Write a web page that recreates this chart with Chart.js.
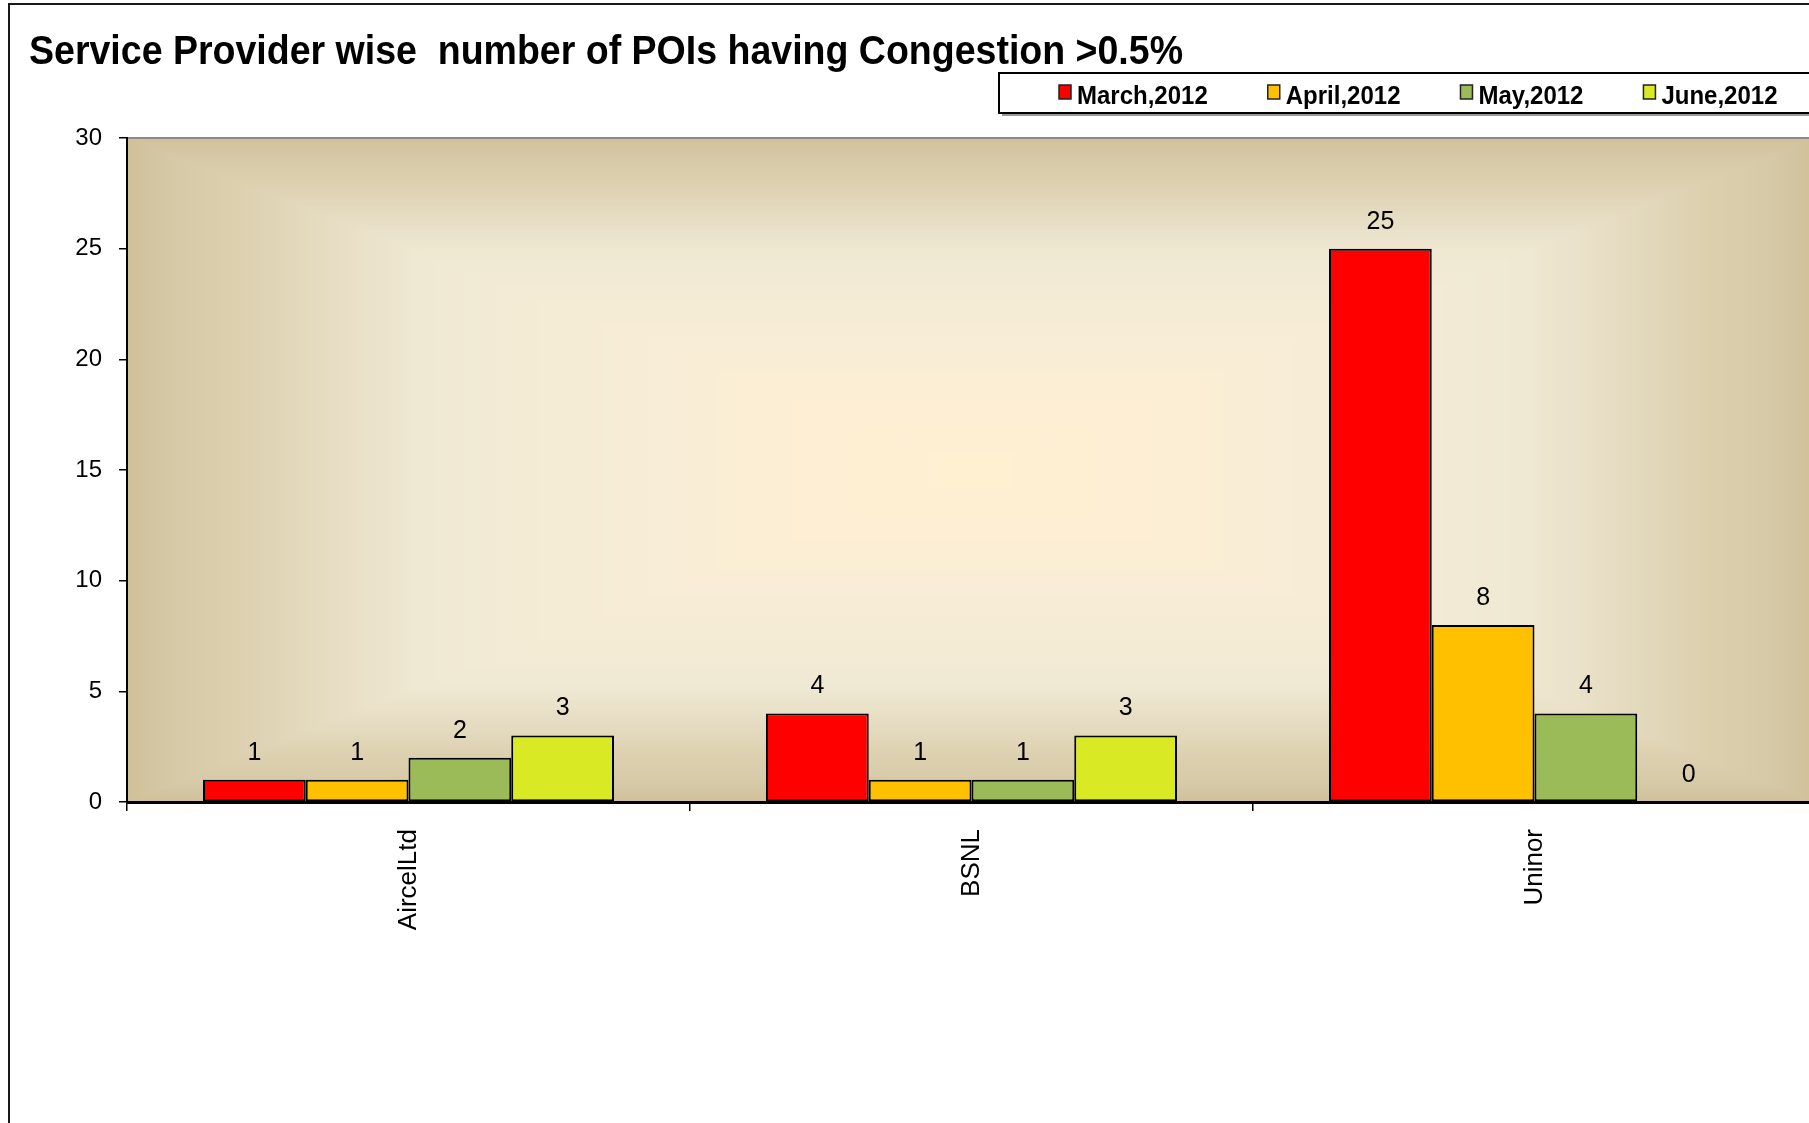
<!DOCTYPE html>
<html>
<head>
<meta charset="utf-8">
<title>Service Provider wise number of POIs having Congestion &gt;0.5%</title>
<script src="https://cdn.jsdelivr.net/npm/chart.js@4.4.0/dist/chart.umd.min.js"></script>
<style>
  html, body { margin: 0; padding: 0; background: #fff; overflow: hidden; }
  #chartBox { width: 1809px; height: 1123px; overflow: hidden; position: relative; }
  canvas { display: block; }
</style>
</head>
<body>
<div id="chartBox"><canvas id="myChart" width="1830" height="1123"></canvas></div>
<script>
// chart data
const providers = ['AircelLtd', 'BSNL', 'Uninor']
const monthLabels = ['March,2012', 'April,2012', 'May,2012', 'June,2012']
const march = [1, 4, 25]
const april = [1, 1, 8]
const may = [2, 1, 4]
const june = [3, 3, 0]
const yTicks = [0, 5, 10, 15, 20, 25, 30]

const titleText = 'Service Provider wise  number of POIs having Congestion >0.5%'
const barColors = ['#ff0000', '#ffc000', '#9bbb59', '#d9ea24']
const fontFamily = '"Liberation Sans", Arial, sans-serif'

Chart.defaults.font.family = fontFamily
Chart.defaults.color = '#000'

// tan -> cream rectangular gradient, like the excel "from center" fill
const gradStops = [
  [0, [255, 240, 210]],
  [0.2, [253, 238, 212]],
  [0.4, [247, 237, 214]],
  [0.55, [243, 235, 213]],
  [0.66, [239, 232, 210]],
  [0.76, [230, 221, 195]],
  [0.86, [221, 209, 177]],
  [0.95, [214, 201, 166]],
  [1, [208, 193, 155]]
]

function shade(t) {
  for (let i = 1; i < gradStops.length; i++) {
    const [t1, c1] = gradStops[i]
    const [t0, c0] = gradStops[i - 1]
    if (t <= t1) {
      const f = (t - t0) / (t1 - t0)
      const c = c0.map((v, k) => Math.round(v + (c1[k] - v) * f))
      return `rgb(${c[0]},${c[1]},${c[2]})`
    }
  }
  return 'rgb(208,193,155)'
}

const plotBackground = {
  id: 'plotBackground',
  beforeDraw(chart) {
    const { ctx, chartArea: a } = chart
    const cx = (a.left + a.right) / 2
    const cy = (a.top + a.bottom) / 2
    const hw = (a.right - a.left) / 2
    const hh = (a.bottom - a.top) / 2
    const steps = 160
    ctx.save()
    for (let i = steps; i > 0; i--) {
      const t = i / steps
      ctx.fillStyle = shade(t)
      ctx.fillRect(cx - hw * t, cy - hh * t, 2 * hw * t, 2 * hh * t)
    }
    // grey top edge of plot
    ctx.strokeStyle = '#8d8b80'
    ctx.lineWidth = 2
    ctx.beginPath()
    ctx.moveTo(a.left, a.top)
    ctx.lineTo(a.right, a.top)
    ctx.stroke()

    // outer frame (only top + left are visible)
    ctx.strokeStyle = '#1a1a1a'
    ctx.lineWidth = 2
    ctx.beginPath()
    ctx.moveTo(9, chart.height)
    ctx.lineTo(9, 4)
    ctx.lineTo(chart.width, 4)
    ctx.stroke()

    // title, squeezed a bit like the original
    ctx.font = 'bold 41px ' + fontFamily
    ctx.fillStyle = '#000'
    ctx.textBaseline = 'alphabetic'
    const w = ctx.measureText(titleText).width
    const sx = 1154 / w
    ctx.translate(29, 64)
    ctx.scale(sx, 1)
    ctx.fillText(titleText, 0, 0)
    ctx.restore()
  }
}

const valueLabels = {
  id: 'valueLabels',
  afterDatasetsDraw(chart) {
    const ctx = chart.ctx
    ctx.save()
    ctx.font = '25px ' + fontFamily
    ctx.fillStyle = '#000'
    ctx.textAlign = 'center'
    ctx.textBaseline = 'middle'
    chart.data.datasets.forEach((ds, i) => {
      chart.getDatasetMeta(i).data.forEach((bar, j) => {
        ctx.fillText(ds.data[j], bar.x, bar.y - 27)
      })
    })
    ctx.restore()
  }
}

const boxLegend = {
  id: 'boxLegend',
  afterDraw(chart) {
    const ctx = chart.ctx
    const left = 999, top = 73, h = 40
    const w = chart.width - left + 10
    ctx.save()
    ctx.fillStyle = '#9a9a9a'
    ctx.fillRect(left + 3, top + h + 1, w, 2)
    ctx.fillStyle = '#fff'
    ctx.fillRect(left, top, w, h)
    ctx.strokeStyle = '#000'
    ctx.lineWidth = 2
    ctx.strokeRect(left, top, w, h)

    ctx.font = 'bold 25px ' + fontFamily
    ctx.textBaseline = 'alphabetic'
    let x = 1059
    chart.data.datasets.forEach(ds => {
      ctx.fillStyle = ds.backgroundColor
      ctx.fillRect(x, top + 12, 12, 14)
      ctx.strokeStyle = '#222'
      ctx.lineWidth = 1.5
      ctx.strokeRect(x, top + 12, 12, 14)
      ctx.fillStyle = '#000'
      const tw = ctx.measureText(ds.label).width
      ctx.save()
      ctx.translate(x + 18, top + 31)
      ctx.scale(0.96, 1)
      ctx.fillText(ds.label, 0, 0)
      ctx.restore()
      x += 18 + tw * 0.96 + 60
    })
    ctx.restore()
  }
}

const series = [march, april, may, june]

const ctx = document.getElementById('myChart')
new Chart(ctx, {
  type: 'bar',
  data: {
    labels: providers,
    datasets: series.map((vals, i) => ({
      label: monthLabels[i],
      data: vals,
      backgroundColor: barColors[i],
      borderColor: '#000',
      borderWidth: 2,
      borderSkipped: false,
      categoryPercentage: 0.73,
      barPercentage: 1.0
    }))
  },
  options: {
    responsive: false,
    animation: false,
    layout: { padding: { top: 138, right: 14, left: 0, bottom: 0 } },
    plugins: {
      legend: { display: false },
      title: { display: false },
      tooltip: { enabled: false }
    },
    scales: {
      x: {
        grid: { offset: true, drawOnChartArea: false, drawTicks: true, tickLength: 9, color: '#000', lineWidth: 1.5 },
        border: { display: true, color: '#000', width: 3 },
        ticks: { minRotation: 90, maxRotation: 90, padding: 18, color: '#000', font: { size: 26 } },
        afterFit(scale) { scale.height = 1123 - 802 }
      },
      y: {
        min: yTicks[0],
        max: yTicks[yTicks.length - 1],
        ticks: { stepSize: yTicks[1] - yTicks[0], padding: 17, color: '#000', font: { size: 24 } },
        grid: { drawOnChartArea: false, drawTicks: true, tickLength: 8, color: '#000', lineWidth: 1.5 },
        border: { display: true, color: '#000', width: 2 },
        afterFit(scale) { scale.width = 127 }
      }
    }
  },
  plugins: [plotBackground, valueLabels, boxLegend]
})
</script>
</body>
</html>
